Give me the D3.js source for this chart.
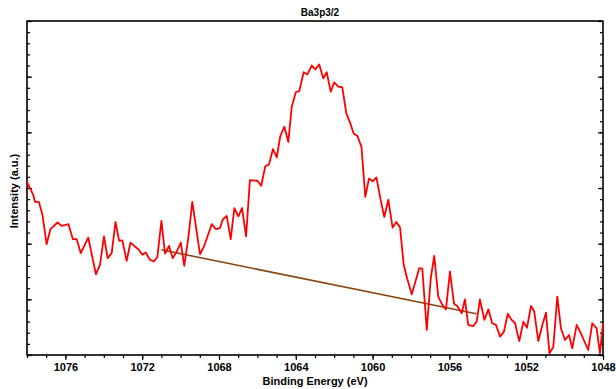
<!DOCTYPE html>
<html>
<head>
<meta charset="utf-8">
<script src="https://cdnjs.cloudflare.com/ajax/libs/d3/7.8.5/d3.min.js"></script>
<style>
  body { margin: 0; background: #fff; }
  text { font-family: "Liberation Sans", Arial, sans-serif; font-weight: bold; fill: #000; }
  .axis path { display: none; }
  .axis line { stroke: #000; stroke-width: 1.2; }
</style>
</head>
<body>
<svg id="chart"></svg>
<script>
// Binding energy (eV) and intensity (a.u.)
const energy = [
  1078.0, 1077.67, 1077.58, 1077.38, 1077.19, 1076.98, 1076.78, 1076.41, 1076.20, 1075.84,
  1075.61, 1075.41, 1075.20, 1074.81, 1074.41, 1074.20, 1073.99, 1073.80, 1073.59, 1073.39,
  1073.20, 1073.03, 1072.81, 1072.61, 1072.38, 1072.20, 1071.99, 1071.82, 1071.59, 1071.39,
  1071.21, 1071.0, 1070.81, 1070.60, 1070.41, 1070.20, 1069.99, 1069.81, 1069.60, 1069.39,
  1068.99, 1068.78, 1068.38, 1068.16, 1067.95, 1067.81, 1067.60, 1067.39, 1067.20, 1066.99,
  1066.80, 1066.59, 1066.39, 1066.0, 1065.80, 1065.59, 1065.40, 1065.19, 1064.99, 1064.81,
  1064.60, 1064.39, 1064.21, 1064.0, 1063.82, 1063.59, 1063.40, 1063.17, 1062.98, 1062.78,
  1062.57, 1062.39, 1062.18, 1062.0, 1061.79, 1061.58, 1061.37, 1061.18, 1060.99, 1060.80,
  1060.58, 1060.38, 1060.19, 1059.99, 1059.80, 1059.59, 1059.39, 1059.18, 1058.96, 1058.76,
  1058.57, 1058.38, 1058.19, 1057.96, 1057.57, 1057.41, 1057.18, 1056.97, 1056.79, 1056.58,
  1056.37, 1056.18, 1055.97, 1055.76, 1055.59, 1055.36, 1055.19, 1055.02, 1054.76, 1054.58,
  1054.41, 1054.18, 1053.97, 1053.77, 1053.57, 1053.36, 1053.16, 1052.96, 1052.76, 1052.58,
  1052.36, 1052.15, 1051.96, 1051.75, 1051.58, 1051.37, 1051.16, 1050.97, 1050.79, 1050.59,
  1050.38, 1050.19, 1049.98, 1049.77, 1049.60, 1049.37, 1049.15, 1048.77, 1048.56, 1048.33,
  1048.16, 1048.0
];
const intensity = [
  3.11, 2.87, 2.75, 2.75, 2.51, 1.99, 2.26, 2.38, 2.32, 2.35,
  2.08, 2.08, 1.83, 2.11, 1.45, 1.62, 2.13, 1.74, 1.83, 2.39,
  2.05, 2.06, 1.69, 2.02, 1.95, 1.90, 1.80, 1.84, 1.71, 1.68,
  1.76, 2.41, 1.82, 1.96, 1.74, 1.86, 2.02, 1.60, 2.10, 2.75,
  1.81, 1.95, 2.35, 2.26, 2.28, 2.43, 2.50, 2.08, 2.64, 2.49,
  2.64, 2.13, 3.14, 3.13, 3.04, 3.39, 3.42, 3.70, 3.55, 3.93,
  4.10, 3.83, 4.46, 4.72, 4.74, 5.08, 5.04, 5.20, 5.13, 5.22,
  4.97, 5.08, 4.73, 4.90, 4.82, 4.81, 4.34, 4.18, 3.98, 3.94,
  3.74, 2.84, 3.17, 3.12, 3.19, 2.80, 2.48, 2.79, 2.29, 2.39,
  2.29, 1.62, 1.36, 1.09, 1.56, 1.55, 0.45, 1.38, 1.78, 1.05,
  0.90, 0.82, 1.50, 0.92, 0.88, 0.75, 1.00, 0.54, 0.52, 0.60,
  1.00, 0.63, 0.82, 0.57, 0.54, 0.33, 0.42, 0.74, 0.63, 0.57,
  0.25, 0.60, 0.49, 0.88, 0.78, 0.25, 0.54, 0.76, 0.03, 0.14,
  1.05, 0.48, 0.27, 0.36, 0.12, 0.54, 0.39, 0.09, 0.57, 0.48,
  0.03, 0.57
];
// linear background under the peak
const bgEnergy = [1071.0, 1054.6];
const bgIntensity = [1.89, 0.74];

const xMajor = [1076, 1072, 1068, 1064, 1060, 1056, 1052, 1048];

const width = 616;
const height = 389;
const margin = { top: 21, right: 13, bottom: 34, left: 27 };
const innerW = width - margin.left - margin.right;
const innerH = height - margin.top - margin.bottom;

const svg = d3.select("#chart")
    .attr("width", width)
    .attr("height", height);

const g = svg.append("g")
    .attr("transform", `translate(${margin.left},${margin.top})`);

const x = d3.scaleLinear().domain([1078, 1048]).range([0, innerW]);
const y = d3.scaleLinear().domain([0, 6]).range([innerH, 0]);

// bottom axis: minor every 1 eV, major with labels every 4 eV
g.append("g")
    .attr("class", "axis")
    .attr("transform", `translate(0,${innerH})`)
    .call(d3.axisBottom(x).tickValues(d3.range(1078, 1047, -1)).tickSize(3).tickFormat(""));

const xAx = g.append("g")
    .attr("class", "axis")
    .attr("transform", `translate(0,${innerH})`)
    .call(d3.axisBottom(x).tickValues(xMajor).tickSize(5).tickPadding(3).tickFormat(d3.format("d")));
xAx.selectAll("text").style("font-size", "11px");

// left and right axes, ticks pointing in, no labels
const yMinor = d3.range(0, 6.01, 0.2);
const yMajor = d3.range(0, 7, 1);
g.append("g").attr("class", "axis")
    .call(d3.axisLeft(y).tickValues(yMinor).tickSize(-3).tickFormat(""));
g.append("g").attr("class", "axis")
    .call(d3.axisLeft(y).tickValues(yMajor).tickSize(-5).tickFormat(""));
g.append("g").attr("class", "axis")
    .attr("transform", `translate(${innerW},0)`)
    .call(d3.axisRight(y).tickValues(yMinor).tickSize(-3).tickFormat(""));
g.append("g").attr("class", "axis")
    .attr("transform", `translate(${innerW},0)`)
    .call(d3.axisRight(y).tickValues(yMajor).tickSize(-5).tickFormat(""));

// frame
g.append("rect")
    .attr("width", innerW)
    .attr("height", innerH)
    .attr("fill", "none")
    .attr("stroke", "#000")
    .attr("stroke-width", 1.6);

const line = d3.line()
    .x(d => x(d[0]))
    .y(d => y(d[1]));

g.append("path")
    .datum(d3.zip(bgEnergy, bgIntensity))
    .attr("fill", "none")
    .attr("stroke", "#8b4513")
    .attr("stroke-width", 1.6)
    .attr("d", line);

g.append("path")
    .datum(d3.zip(energy, intensity))
    .attr("fill", "none")
    .attr("stroke", "#ff0000")
    .attr("stroke-width", 1.8)
    .attr("stroke-linejoin", "round")
    .attr("d", line);

// titles
svg.append("text")
    .attr("x", margin.left + innerW / 2 + 5)
    .attr("y", 16)
    .attr("text-anchor", "middle")
    .style("font-size", "10px")
    .text("Ba3p3/2");

svg.append("text")
    .attr("x", margin.left + innerW / 2)
    .attr("y", 385)
    .attr("text-anchor", "middle")
    .style("font-size", "11px")
    .text("Binding Energy (eV)");

svg.append("text")
    .attr("transform", `translate(18,${margin.top + innerH / 2 + 3}) rotate(-90)`)
    .attr("text-anchor", "middle")
    .style("font-size", "11px")
    .text("Intensity (a.u.)");
</script>
</body>
</html>
